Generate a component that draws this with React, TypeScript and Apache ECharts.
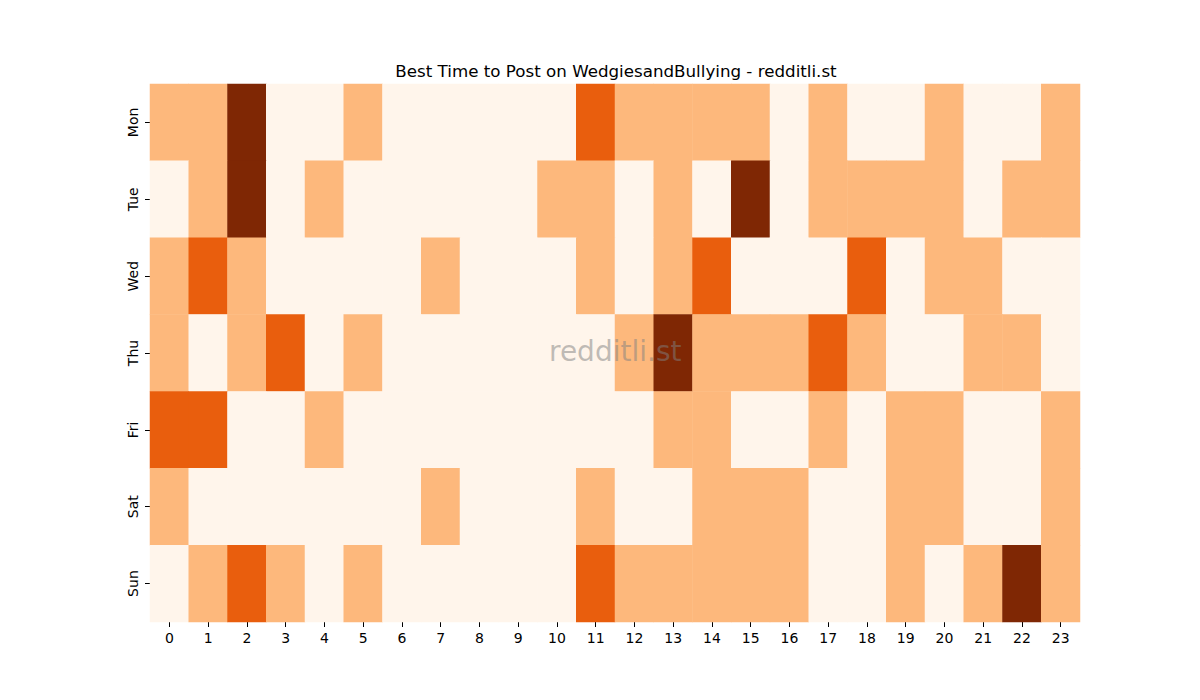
import React, { useEffect, useRef } from "react";
import * as echarts from "echarts";

const hours = ["0","1","2","3","4","5","6","7","8","9","10","11","12","13","14","15","16","17","18","19","20","21","22","23"];
const days = ["Mon", "Tue", "Wed", "Thu", "Fri", "Sat", "Sun"];

const mon = [1,1,3,0,0,1,0,0,0,0,0,2,1,1,1,1,0,1,0,0,1,0,0,1];
const tue = [0,1,3,0,1,0,0,0,0,0,1,1,0,1,0,3,0,1,1,1,1,0,1,1];
const wed = [1,2,1,0,0,0,0,1,0,0,0,1,0,1,2,0,0,0,2,0,1,1,0,0];
const thu = [1,0,1,2,0,1,0,0,0,0,0,0,1,3,1,1,1,2,1,0,0,1,1,0];
const fri = [2,2,0,0,1,0,0,0,0,0,0,0,0,1,1,0,0,1,0,1,1,0,0,1];
const sat = [1,0,0,0,0,0,0,1,0,0,0,1,0,0,1,1,1,0,0,1,1,0,0,1];
const sun = [0,1,2,1,0,1,0,0,0,0,0,2,1,1,1,1,1,0,0,1,0,1,3,1];

const rows = [mon, tue, wed, thu, fri, sat, sun];
const levelColors = ["#fff5eb", "#fdb87c", "#e95e0d", "#7f2704"];

export default function App() {
  const ref = useRef<HTMLDivElement>(null);
  useEffect(() => {
    if (!ref.current) return;
    const chart = echarts.init(ref.current, undefined, { renderer: "svg" });
    const data: number[][] = [];
    rows.forEach((r, yi) => r.forEach((v, xi) => data.push([xi, yi, v])));
    chart.setOption({
      animation: false,
      backgroundColor: "#ffffff",
      textStyle: { fontFamily: "DejaVu Sans" },
      title: {
        text: "Best Time to Post on WedgiesandBullying - redditli.st",
        left: 611,
        textAlign: "center",
        top: 57,
        textStyle: { fontSize: 16.7, fontWeight: "normal", color: "#000", fontFamily: "DejaVu Sans" },
      },
      grid: { left: 150, top: 84, width: 930, height: 538, containLabel: false },
      xAxis: {
        type: "category",
        data: hours,
        axisLine: { show: false },
        axisTick: { show: true, alignWithLabel: true, length: 5, lineStyle: { color: "#000" } },
        axisLabel: { fontSize: 14, color: "#000", margin: 9, fontFamily: "DejaVu Sans" },
        splitLine: { show: false },
      },
      yAxis: {
        type: "category",
        data: days,
        inverse: true,
        axisLine: { show: false },
        axisTick: { show: true, alignWithLabel: true, length: 5, lineStyle: { color: "#000" } },
        axisLabel: { fontSize: 14, color: "#000", margin: 10, rotate: 90, fontFamily: "DejaVu Sans" },
        splitLine: { show: false },
      },
      visualMap: {
        type: "piecewise",
        show: false,
        dimension: 2,
        pieces: levelColors.map((c, i) => ({ value: i, color: c })),
      },
      series: [
        {
          type: "heatmap",
          data,
          itemStyle: { borderWidth: 0 },
          emphasis: { disabled: true },
        },
      ],
      graphic: [
        {
          type: "text",
          left: 615 - 66,
          top: 337,
          style: {
            text: "redditli.st",
            fontSize: 28,
            fontFamily: "DejaVu Sans",
            fill: "rgba(128,128,128,0.5)",
          },
          z: 100,
        },
      ],
    });
    return () => chart.dispose();
  }, []);
  return <div ref={ref} style={{ position: "fixed", left: 0, top: 0, width: 1200, height: 700 }} />;
}
